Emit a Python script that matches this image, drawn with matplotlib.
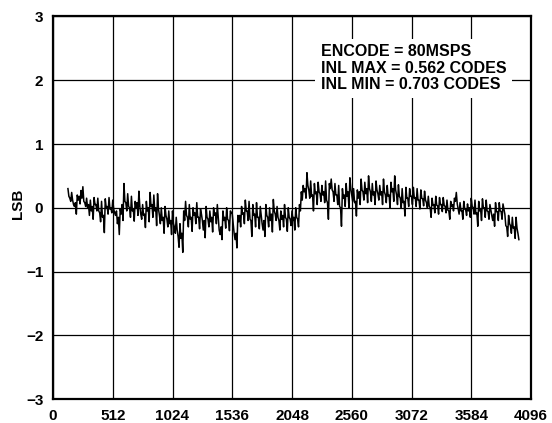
import numpy as np
import matplotlib
matplotlib.use("Agg")
import matplotlib.pyplot as plt

plt.rcParams['font.family'] = ['Liberation Sans', 'DejaVu Sans']
plt.rcParams['font.weight'] = 'bold'

# INL trace values, in 16-code bins starting at code 128.
# inl_a and inl_b are two readings inside each bin (band edge and band interior).
start_code = 128
code_step = 16
inl_a = [
    0.30, 0.10, 0.24, 0.05, -0.10, 0.20, 0.06, 0.27,
    0.33, 0.02, 0.15, -0.12, 0.12, -0.18, 0.16, -0.05,
    0.15, -0.22, 0.10, -0.39, 0.14, -0.10, 0.16, -0.08,
    0.12, -0.12, -0.05, -0.42, -0.02, -0.20, 0.38, -0.05,
    0.22, -0.15, 0.18, -0.21, 0.10, -0.12, 0.26, -0.18,
    0.05, -0.31, 0.10, -0.22, 0.24, -0.15, 0.20, -0.28,
    0.22, -0.25, 0.00, -0.40, 0.02, -0.30, -0.05, -0.42,
    -0.05, -0.40, -0.15, -0.62, -0.25, -0.70, -0.20, 0.10,
    -0.30, 0.05, -0.37, 0.00, -0.25, 0.08, -0.33, -0.02,
    -0.20, -0.47, 0.02, -0.30, -0.05, -0.38, 0.00, -0.25,
    0.05, -0.35, -0.50, -0.05, -0.32, 0.00, -0.36, -0.05,
    -0.10, -0.40, -0.63, -0.12, -0.30, 0.02, -0.25, 0.12,
    -0.20, 0.10, -0.45, 0.05, -0.30, 0.08, -0.33, 0.02,
    -0.25, -0.45, 0.05, -0.30, 0.00, -0.38, 0.13, -0.20,
    0.02, -0.35, -0.05, -0.30, 0.05, -0.37, 0.00, -0.28,
    -0.05, -0.35, 0.00, -0.30, -0.05, 0.12, 0.35, 0.15,
    0.55, 0.15, 0.42, -0.05, 0.38, 0.05, 0.40, 0.10,
    0.35, 0.08, 0.42, -0.18, 0.30, 0.45, 0.10, 0.38,
    0.05, 0.35, -0.29, 0.30, 0.02, 0.38, 0.00, 0.47,
    0.10, 0.30, -0.13, 0.28, 0.05, 0.45, 0.12, 0.40,
    0.08, 0.50, 0.10, 0.38, 0.05, 0.42, 0.12, 0.35,
    0.05, 0.45, 0.08, 0.35, 0.00, 0.40, 0.10, 0.50,
    0.05, 0.36, 0.00, 0.30, -0.13, 0.32, 0.02, 0.30,
    0.05, 0.32, 0.02, 0.30, -0.02, 0.28, 0.03, 0.26,
    0.00, 0.18, -0.15, 0.15, -0.08, 0.18, -0.10, 0.16,
    -0.06, 0.16, -0.08, 0.12, -0.18, 0.10, -0.05, 0.15,
    0.24, -0.10, 0.08, -0.18, 0.10, -0.12, 0.06, -0.15,
    0.15, -0.10, 0.12, -0.29, 0.10, -0.20, 0.14, -0.15,
    0.12, -0.18, 0.05, -0.12, -0.29, 0.08, -0.20, 0.08,
    -0.18, 0.06, -0.10, -0.45, -0.12, -0.40, -0.15, -0.48,
    -0.15, -0.50,
]
inl_b = [
    0.18, 0.15, 0.12, 0.02, 0.08, 0.12, 0.18, 0.15,
    0.10, 0.08, 0.00, 0.05, -0.05, 0.02, 0.05, 0.05,
    -0.05, -0.08, -0.15, -0.12, 0.00, 0.02, -0.02, 0.00,
    -0.02, -0.08, -0.25, -0.15, -0.10, 0.05, 0.10, 0.08,
    0.02, 0.00, -0.05, -0.02, 0.00, 0.08, 0.02, -0.10,
    -0.12, -0.10, -0.05, 0.00, 0.02, 0.05, -0.05, 0.00,
    -0.02, -0.12, -0.20, -0.15, -0.12, -0.18, -0.25, -0.20,
    -0.25, -0.30, -0.35, -0.45, -0.48, -0.40, -0.05, -0.12,
    -0.15, -0.18, -0.15, -0.12, -0.08, -0.15, -0.15, -0.10,
    -0.35, -0.20, -0.15, -0.18, -0.22, -0.15, -0.12, -0.08,
    -0.15, -0.42, -0.30, -0.20, -0.15, -0.18, -0.20, -0.08,
    -0.25, -0.50, -0.40, -0.22, -0.12, -0.10, -0.08, -0.05,
    -0.05, -0.18, -0.20, -0.12, -0.10, -0.15, -0.15, -0.12,
    -0.35, -0.20, -0.12, -0.15, -0.20, -0.10, -0.05, -0.10,
    -0.15, -0.20, -0.18, -0.12, -0.15, -0.18, -0.15, -0.18,
    -0.20, -0.15, -0.15, -0.18, 0.05, 0.25, 0.25, 0.30,
    0.35, 0.28, 0.18, 0.20, 0.22, 0.25, 0.25, 0.22,
    0.20, 0.25, 0.12, 0.08, 0.38, 0.28, 0.25, 0.20,
    0.20, 0.02, 0.00, 0.15, 0.20, 0.18, 0.25, 0.30,
    0.20, 0.08, 0.10, 0.15, 0.25, 0.28, 0.25, 0.22,
    0.30, 0.30, 0.25, 0.20, 0.25, 0.28, 0.22, 0.20,
    0.25, 0.25, 0.20, 0.18, 0.20, 0.25, 0.30, 0.28,
    0.20, 0.18, 0.15, 0.08, 0.10, 0.15, 0.15, 0.18,
    0.18, 0.15, 0.16, 0.12, 0.12, 0.15, 0.14, 0.12,
    0.08, 0.02, 0.00, 0.04, 0.05, 0.04, 0.03, 0.05,
    0.05, 0.04, 0.02, -0.04, -0.05, 0.02, 0.05, 0.10,
    0.06, -0.02, -0.05, -0.04, -0.02, -0.03, -0.05, 0.00,
    0.02, 0.00, -0.10, -0.08, -0.05, -0.02, 0.00, 0.00,
    -0.05, -0.06, -0.04, -0.20, -0.10, -0.06, -0.06, -0.05,
    -0.06, -0.02, -0.28, -0.30, -0.25, -0.28, -0.32, -0.30,
    -0.32, -0.40,
]

# within each bin, the higher reading comes first, the lower one 8 codes later
inl_lsb = []
for a, b in zip(inl_a, inl_b):
    inl_lsb.append(max(a, b))
    inl_lsb.append(min(a, b))
codes = start_code + (code_step // 2) * np.arange(len(inl_lsb))

x_ticks = [0, 512, 1024, 1536, 2048, 2560, 3072, 3584, 4096]
y_ticks = [-3, -2, -1, 0, 1, 2, 3]
y_tick_labels = ['\u22123', '\u22122', '\u22121', '0', '1', '2', '3']
annotation = "ENCODE = 80MSPS\nINL MAX = 0.562 CODES\nINL MIN = 0.703 CODES"

fig = plt.figure(figsize=(5.52, 4.23), dpi=100)
ax = fig.add_axes([53/552, 1 - 399/423, 478/552, (399 - 16.5)/423])

ax.plot(codes, inl_lsb, color='black', lw=1.1, zorder=3)

ax.set_xlim(0, 4096)
ax.set_ylim(-3, 3)
ax.set_xticks(x_ticks)
ax.set_xticklabels([str(t) for t in x_ticks])
ax.set_yticks(y_ticks)
ax.set_yticklabels(y_tick_labels)
ax.tick_params(axis='both', length=0, labelsize=11)
ax.tick_params(axis='x', pad=7)
ax.tick_params(axis='y', pad=7)
for lab in ax.get_xticklabels() + ax.get_yticklabels():
    lab.set_fontweight('bold')

ax.grid(True, color='black', lw=0.9, zorder=1)
ax.set_axisbelow(True)
for s in ax.spines.values():
    s.set_linewidth(1.6)
    s.set_zorder(5)

ax.set_ylabel('LSB', fontsize=11, fontweight='bold')
ax.yaxis.set_label_coords(-0.058, 0.51)

ax.text(0.56, 0.927, annotation, transform=ax.transAxes, ha='left', va='top',
        fontsize=11.5, fontweight='bold', linespacing=1.12, zorder=4,
        bbox=dict(facecolor='white', edgecolor='none', pad=4))

fig.savefig('out.png', dpi=100)
